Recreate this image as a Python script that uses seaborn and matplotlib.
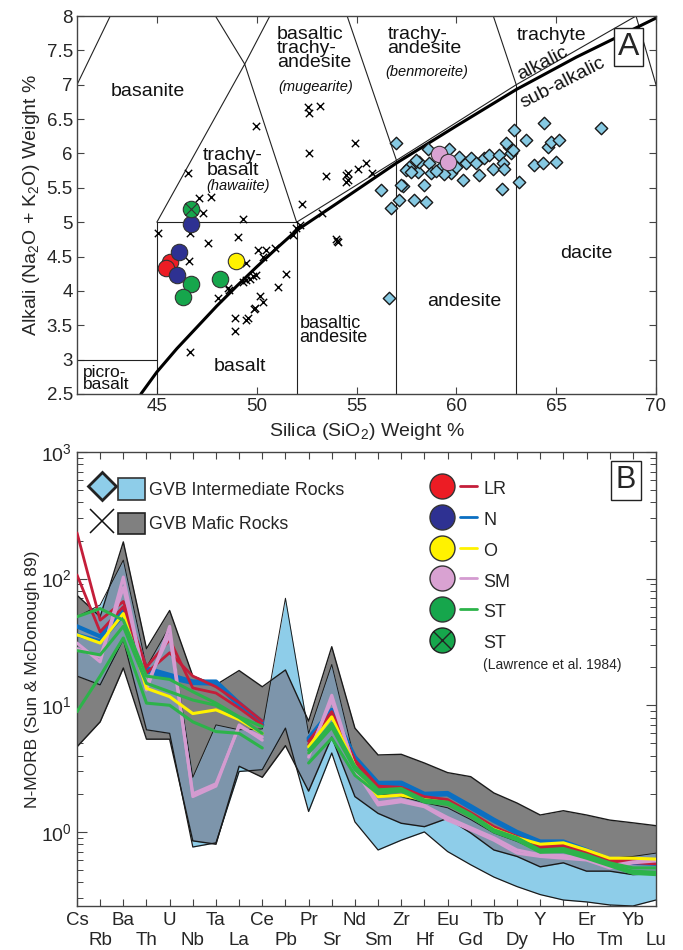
import numpy as np
import pandas as pd
import matplotlib
matplotlib.use("Agg")
import matplotlib.pyplot as plt
import seaborn as sns
from matplotlib.lines import Line2D
from matplotlib.patches import Patch
from matplotlib.path import Path
from matplotlib.legend_handler import HandlerTuple

sns.set_style("ticks")
plt.rcParams['font.family'] = ['Liberation Sans', 'DejaVu Sans']
plt.rcParams['mathtext.fontset'] = 'custom'
plt.rcParams['mathtext.rm'] = 'Liberation Sans'
plt.rcParams['mathtext.it'] = 'Liberation Sans:italic'

# ---------------- Panel A data (TAS) ----------------
mafic_si = [46.57, 49.98, 52.57, 53.15, 52.62, 52.6, 53.45, 54.45, 54.45, 52.25, 53.25, 53.95, 54.0, 54.05,
            54.9, 54.57, 54.57, 55.07, 55.48, 55.8, 47.12, 47.73, 47.32, 46.73, 49.32, 45.07, 46.65, 47.55,
            49.07, 50.07, 50.9, 50.32, 46.62, 49.48, 51.48, 51.07, 51.82, 51.98, 52.15, 48.57, 48.6, 48.07,
            49.32, 49.48, 49.65, 49.82, 49.98, 50.15, 50.32, 49.9, 49.85, 48.9, 49.48, 49.55, 48.9, 46.68, 50.48]
mafic_alk = [5.71, 6.40, 6.68, 6.69, 6.59, 6.0, 5.67, 5.69, 5.59, 5.27, 5.13, 4.76, 4.73, 4.71,
             6.15, 5.71, 5.61, 5.78, 5.86, 5.71, 5.35, 5.36, 5.13, 5.18, 5.05, 4.84, 4.84, 4.70,
             4.78, 4.59, 4.62, 4.50, 4.44, 4.40, 4.25, 4.05, 4.81, 4.91, 4.96, 4.04, 4.02, 3.89,
             4.13, 4.16, 4.18, 4.21, 4.23, 3.92, 3.84, 3.75, 3.73, 3.60, 3.58, 3.60, 3.41, 3.11, 4.59]

inter_si = [56.98, 56.23, 56.73, 57.15, 57.32, 57.65, 57.9, 58.48, 58.07, 58.15, 58.57, 58.65, 58.4, 58.73,
            59.65, 59.73, 60.15, 60.32, 60.48, 60.73, 60.98, 61.15, 61.4, 61.65, 61.82, 62.15, 62.32, 62.4,
            62.65, 62.73, 62.9, 62.82, 62.28, 63.15, 63.48, 63.9, 64.32, 64.4, 64.57, 64.73, 65.15, 64.98,
            67.23, 59.25, 59.4, 57.48, 57.98, 57.73, 57.23, 56.62, 62.48, 59.0, 60.0]
inter_alk = [6.15, 5.47, 5.20, 5.32, 5.52, 5.81, 5.32, 5.30, 5.73, 5.88, 6.07, 5.86, 5.54, 5.71,
             6.07, 5.71, 5.95, 5.61, 5.86, 5.93, 5.86, 5.69, 5.93, 5.98, 5.78, 5.98, 5.86, 5.78,
             6.10, 6.00, 6.34, 6.05, 5.48, 5.59, 6.20, 5.83, 5.86, 6.45, 6.10, 6.17, 6.20, 5.88,
             6.37, 5.80, 5.70, 5.76, 5.90, 5.73, 5.54, 3.90, 6.15, 5.75, 5.80]

lr_si, lr_alk = [45.65, 45.48], [4.42, 4.34]
n_si, n_alk = [46.73, 46.12, 46.02], [4.97, 4.57, 4.23]
o_si, o_alk = [48.98], [4.44]
sm_si, sm_alk = [59.15, 59.57], [5.99, 5.87]
st_si, st_alk = [46.73, 46.32, 48.18], [4.10, 3.91, 4.18]
stl_si, stl_alk = [46.73], [5.19]

# alkalic / sub-alkalic divide
div_si = [44.2, 45, 46, 47, 48, 49, 50, 51, 52, 54, 57, 60, 63, 66, 70]
div_alk = [2.5, 2.82, 3.16, 3.47, 3.78, 4.07, 4.35, 4.62, 4.88, 5.27, 5.86, 6.4, 6.93, 7.4, 7.97]

# TAS field boundaries (Le Bas et al.)
tas_bounds = [
    ([41, 45], [3, 3]), ([45, 45], [0, 5]), ([45, 52], [5, 5]), ([52, 52], [0, 5]),
    ([52, 57, 63, 69], [5, 5.9, 7, 8]), ([57, 57], [0, 5.9]), ([63, 63], [0, 7]),
    ([45, 49.4, 52], [5, 7.3, 5]), ([49.4, 53], [7.3, 9.3]), ([57, 53], [5.9, 9.3]),
    ([63, 57.6], [7, 11.7]), ([41, 45], [7, 9.4]), ([49.4, 45], [7.3, 9.4]), ([69, 77], [8, 0]),
]

# ---------------- Panel B data (spider diagram) ----------------
elements = ["Cs", "Rb", "Ba", "Th", "U", "Nb", "Ta", "La", "Ce", "Pb", "Pr", "Sr", "Nd",
            "Sm", "Zr", "Hf", "Eu", "Gd", "Tb", "Dy", "Y", "Ho", "Er", "Tm", "Yb", "Lu"]
mafic_hi = [74, 50, 195, 28, 56, 17, 14.5, 18.8, 14, 19, 7.5, 29, 6.6, 4.05, 4.1, 3.5, 2.94, 2.73,
            2.03, 1.69, 1.36, 1.47, 1.36, 1.24, 1.18, 1.12]
mafic_lo = [4.7, 7.4, 19.7, 5.4, 5.4, 0.85, 0.8, 3.3, 2.7, 4.8, 2.1, 5.6, 1.9, 1.40, 1.17, 1.10, 1.28,
            0.98, 0.72, 0.64, 0.53, 0.57, 0.49, 0.49, 0.46, 0.47]
inter_hi = [50, 62, 140, 20, 42, 2.7, 7.0, 6.4, 6.5, 70, 6.0, 21, 3.6, 2.0, 1.9, 1.7, 1.55, 1.25,
            0.98, 0.84, 0.70, 0.72, 0.66, 0.62, 0.64, 0.68]
inter_lo = [17, 14.5, 33, 6.4, 6.0, 0.76, 0.82, 3.0, 3.1, 6.6, 1.45, 4.2, 1.2, 0.72, 0.86, 1.0, 0.70,
            0.55, 0.44, 0.37, 0.32, 0.29, 0.28, 0.265, 0.26, 0.29]

nan = np.nan
lr_lines = [
    [230, 47, 66, 20, 33, 13.7, 12.5, 9.5, 7.0, nan, 5.2, 8.9, 3.7, 2.3, 2.25, 1.9, 1.8, 1.42, 1.1, 0.92, 0.77, 0.79, 0.70, 0.60, 0.59, 0.59],
    [107, 38, 60, 18, 26, 17, 14, 10.5, 7.5, nan, 4.9, 8.4, 3.6, 2.2, 2.2, 1.85, 1.75, 1.38, 1.08, 0.9, 0.74, 0.76, 0.68, 0.58, 0.57, 0.56],
]
n_lines = [
    [42, 35, 58, 19.6, 17.4, 15.4, 15.4, 10.4, 7.4, nan, 5.5, 9.2, 3.9, 2.44, 2.45, 2.0, 2.03, 1.6, 1.25, 1.0, 0.84, 0.84, 0.72, 0.61, 0.58, 0.57],
    [36, 32, 52, 18.5, 16.5, 15, 14.8, 10, 7.0, nan, 5.3, 8.8, 3.8, 2.38, 2.4, 1.95, 1.98, 1.55, 1.22, 0.98, 0.82, 0.82, 0.70, 0.60, 0.57, 0.56],
]
o_lines = [
    [36, 31, 53, 13.6, 11.7, 8.6, 9.2, 7.7, 6.0, nan, 4.7, 8.1, 3.3, 1.9, 1.95, 1.8, 1.7, 1.35, 1.05, 0.9, 0.80, 0.82, 0.72, 0.62, 0.62, 0.61],
]
sm_lines = [
    [31, 22, 103, 13.2, 42, 1.9, 2.3, 7.0, 5.3, nan, 3.9, 12, 3.1, 1.63, 1.73, 1.58, 1.24, 1.04, 0.86, 0.68, 0.64, 0.62, 0.60, 0.52, 0.57, 0.59],
    [28, 24, 85, 14.5, 36, 2.0, 2.4, 6.8, 5.6, nan, 4.2, 11, 3.2, 1.7, 1.8, 1.62, 1.3, 1.08, 0.9, 0.72, 0.66, 0.65, 0.62, 0.54, 0.58, 0.60],
]
st_lines = [
    [50, 58, 47, 17, 16, 12.8, 10.4, 8.1, 6.8, nan, 4.4, 7.2, 3.3, 2.15, 2.2, 1.79, 1.72, 1.38, 1.04, 0.9, 0.72, 0.74, 0.66, 0.57, 0.52, 0.52],
    [27, 25, 42, 14.9, 12.8, 11, 10, 8, 6.0, nan, 4.2, 6.7, 3.1, 2.1, 2.15, 1.75, 1.7, 1.35, 1.02, 0.88, 0.70, 0.72, 0.64, 0.55, 0.49, 0.48],
    [8.9, 17, 34, 10.4, 10, 7.4, 6.2, 6.0, 4.6, nan, 3.5, 5.5, 2.8, 2.0, 2.1, 1.72, 1.65, 1.32, 1.0, 0.86, 0.69, 0.70, 0.62, 0.54, 0.47, 0.46],
]

# ---------------- styles ----------------
RED_PT, NAVY_PT, YEL_PT, PINK_PT, GRN_PT = '#ec1c24', '#2e3192', '#fff200', '#d9a2d2', '#16a64c'
RED_LN, BLU_LN, YEL_LN, PINK_LN, GRN_LN = '#c41e3a', '#0b6fc2', '#fff200', '#d49bd0', '#2db34a'
LBLUE, GRAY, OVER, DIAM = '#8ecde9', '#808080', '#7d95ab', '#86c9e2'

d = np.sqrt(0.5)
crossed = Path.make_compound_path(Path.unit_circle(),
                                  Path([[-d, -d], [d, d]], [Path.MOVETO, Path.LINETO]),
                                  Path([[-d, d], [d, -d]], [Path.MOVETO, Path.LINETO]))

fig = plt.figure(figsize=(6.83, 9.5), dpi=100)
axA = fig.add_axes([77 / 683, 1 - 394 / 950, 579 / 683, 378 / 950])
axB = fig.add_axes([77 / 683, 1 - 906 / 950, 579 / 683, 454 / 950])

# ================= Panel A =================
for xs, ys in tas_bounds:
    axA.plot(xs, ys, color='#222222', lw=0.8, zorder=1)
axA.plot(div_si, div_alk, color='black', lw=2.2, zorder=2)

sns.scatterplot(x=mafic_si, y=mafic_alk, marker='x', color='black', s=28, linewidth=1.0, ax=axA, zorder=3)
sns.scatterplot(x=inter_si, y=inter_alk, marker='D', color=DIAM, edgecolor='#1a1a1a', linewidth=1.0,
                s=40, ax=axA, zorder=3)
circ_kw = dict(s=140, edgecolor='#333333', linewidth=0.8, ax=axA, zorder=4)
sns.scatterplot(x=lr_si, y=lr_alk, color=RED_PT, **circ_kw)
sns.scatterplot(x=n_si, y=n_alk, color=NAVY_PT, **circ_kw)
sns.scatterplot(x=o_si, y=o_alk, color=YEL_PT, **circ_kw)
sns.scatterplot(x=sm_si, y=sm_alk, color=PINK_PT, **circ_kw)
sns.scatterplot(x=st_si, y=st_alk, color=GRN_PT, **circ_kw)
sns.scatterplot(x=stl_si, y=stl_alk, marker=crossed, color=GRN_PT, **circ_kw)

axA.set_xlim(41, 70)
axA.set_ylim(2.5, 8)
axA.set_xticks([45, 50, 55, 60, 65, 70])
axA.set_yticks(np.arange(2.5, 8.01, 0.5))
axA.set_yticklabels(['2.5', '3', '3.5', '4', '4.5', '5', '5.5', '6', '6.5', '7', '7.5', '8'])
axA.tick_params(direction='in', top=True, right=True, length=5, width=0.8, labelsize=13.5, pad=3,
                color='#444444')
axA.set_xlabel('Silica (SiO$_2$) Weight %', fontsize=14, labelpad=4)
axA.set_ylabel('Alkali (Na$_2$O + K$_2$O) Weight %', fontsize=14, labelpad=3)
for sp in axA.spines.values():
    sp.set_color('#444444')
    sp.set_linewidth(1.0)

lab = dict(fontsize=14, color='#111111', zorder=5)
ital = dict(fontsize=10.5, style='italic', color='#111111', zorder=5)
axA.text(44.55, 6.9, 'basanite', ha='center', va='center', **lab)
axA.text(48.8, 5.86, 'trachy-\nbasalt', ha='center', va='center', linespacing=0.8, **lab)
axA.text(49.05, 5.52, '(hawaiite)', ha='center', va='center', **ital)
axA.text(51.0, 7.86, 'basaltic\ntrachy-\nandesite', ha='left', va='top', linespacing=0.78, **lab)
axA.text(51.1, 6.97, '(mugearite)', ha='left', va='center', **ital)
axA.text(56.55, 7.86, 'trachy-\nandesite', ha='left', va='top', linespacing=0.78, **lab)
axA.text(58.5, 7.18, '(benmoreite)', ha='center', va='center', **ital)
axA.text(64.75, 7.72, 'trachyte', ha='center', va='center', **lab)
axA.text(64.3, 7.31, 'alkalic', ha='center', va='center', rotation=27, rotation_mode='anchor', **lab)
axA.text(65.35, 7.03, 'sub-alkalic', ha='center', va='center', rotation=27, rotation_mode='anchor', **lab)
axA.text(41.3, 2.73, 'picro-\nbasalt', ha='left', va='center', linespacing=0.78,
         fontsize=12.5, color='#111111', zorder=5)
axA.text(49.15, 2.9, 'basalt', ha='center', va='center', **lab)
axA.text(52.15, 3.43, 'basaltic\nandesite', ha='left', va='center', linespacing=0.78, fontsize=13,
         color='#111111', zorder=5)
axA.text(60.4, 3.84, 'andesite', ha='center', va='center', **lab)
axA.text(66.5, 4.55, 'dacite', ha='center', va='center', **lab)
axA.text(0.953, 0.918, 'A', transform=axA.transAxes, fontsize=23, ha='center', va='center', zorder=6,
         bbox=dict(boxstyle='square,pad=0.12', fc='white', ec='#222222', lw=1.0))

# ================= Panel B =================
pos = np.arange(len(elements))
axB.set_yscale('log')
axB.fill_between(pos, mafic_lo, mafic_hi, color=GRAY, lw=0, zorder=1)
axB.fill_between(pos, inter_lo, inter_hi, color=LBLUE, lw=0, zorder=1.1)
grid = np.linspace(0, len(elements) - 1, 3001)
def _li(v):
    return 10 ** np.interp(grid, pos, np.log10(v))
ov_lo = np.maximum(_li(mafic_lo), _li(inter_lo))
ov_hi = np.minimum(_li(mafic_hi), _li(inter_hi))
axB.fill_between(grid, ov_lo, ov_hi, where=ov_hi > ov_lo, color=OVER, lw=0, zorder=1.2)
for arr, lw in [(mafic_hi, 1.0), (mafic_lo, 1.0), (inter_hi, 0.7), (inter_lo, 0.9)]:
    axB.plot(pos, arr, color='#1a1a1a', lw=lw, zorder=1.5)

rows = []
for grp, lines in [('N', n_lines), ('LR', lr_lines), ('SM', sm_lines), ('O', o_lines), ('ST', st_lines)]:
    for k, vals in enumerate(lines):
        for i, v in enumerate(vals):
            seg = 0 if i < 9 else 1
            if not np.isnan(v):
                rows.append(dict(group=grp, unit=f'{grp}{k}_{seg}', pos=i, val=v))
df = pd.DataFrame(rows)
line_style = {'N': (BLU_LN, 3.0), 'LR': (RED_LN, 2.0), 'SM': (PINK_LN, 2.2), 'O': (YEL_LN, 2.2),
              'ST': (GRN_LN, 2.2)}
for z, grp in enumerate(['N', 'LR', 'SM', 'O', 'ST']):
    c, lw = line_style[grp]
    sns.lineplot(data=df[df.group == grp], x='pos', y='val', units='unit', estimator=None, sort=False,
                 color=c, lw=lw, ax=axB, zorder=3 + z * 0.1)

axB.set_xlim(0, len(elements) - 1)
axB.set_ylim(0.26, 1000)
axB.set_xticks(pos[::2])
axB.set_xticklabels(elements[::2], fontsize=13.5)
axB.set_xticks(pos[1::2], minor=True)
axB.set_xticklabels(elements[1::2], minor=True, fontsize=13.5)
axB.tick_params(axis='x', which='both', direction='in', top=True, length=5, width=0.8, color='#444444')
axB.tick_params(axis='x', which='major', pad=4)
axB.tick_params(axis='x', which='minor', pad=19)
axB.tick_params(axis='y', which='major', direction='in', right=True, length=7, width=0.8, labelsize=14,
                color='#444444')
axB.tick_params(axis='y', which='minor', direction='in', right=True, length=4, width=0.7, color='#444444')
axB.set_xlabel('')
axB.set_ylabel('N-MORB (Sun & McDonough 89)', fontsize=12.5, labelpad=1)
for sp in axB.spines.values():
    sp.set_color('#444444')
    sp.set_linewidth(1.0)

# legends
h_int = (Line2D([], [], marker='D', ls='none', ms=14, mfc=LBLUE, mec='#222222', mew=2.0),
         Patch(fc=LBLUE, ec='#333333', lw=1.2))
h_maf = (Line2D([], [], marker='x', ls='none', ms=17, mec='#111111', mew=1.1),
         Patch(fc=GRAY, ec='#222222', lw=1.2))
leg1 = axB.legend([h_int, h_maf], ['GVB Intermediate Rocks', 'GVB Mafic Rocks'],
                  handler_map={tuple: HandlerTuple(ndivide=None, pad=0.17)},
                  loc='upper left', bbox_to_anchor=(0.02, 0.943), frameon=False, fontsize=12.8,
                  handlelength=3.16, handleheight=1.5, handletextpad=0.23, labelspacing=0.73,
                  borderpad=0, borderaxespad=0)
axB.add_artist(leg1)

ck = dict(marker='o', ls='none', ms=18, mec='#333333', mew=1.0)
h2 = [(Line2D([], [], mfc=c, **ck), Line2D([], [], color=lc, lw=2.0))
      for c, lc in [(RED_PT, RED_LN), (NAVY_PT, BLU_LN), (YEL_PT, YEL_LN), (PINK_PT, PINK_LN), (GRN_PT, GRN_LN)]]
h2.append((Line2D([], [], marker=crossed, ls='none', ms=18, mfc=GRN_PT, mec='#222222', mew=1.0),
           Line2D([], [], color='none')))
leg2 = axB.legend(h2, ['LR', 'N', 'O', 'SM', 'ST', 'ST'],
                  handler_map={tuple: HandlerTuple(ndivide=None, pad=0.53)},
                  loc='upper left', bbox_to_anchor=(0.616, 0.943), frameon=False, fontsize=13,
                  handlelength=2.42, handleheight=1.4, handletextpad=0.33, labelspacing=0.55,
                  borderpad=0, borderaxespad=0)
axB.text(0.701, 0.531, '(Lawrence et al. 1984)', transform=axB.transAxes, fontsize=10, ha='left',
         va='center')
axB.text(0.948, 0.938, 'B', transform=axB.transAxes, fontsize=22, ha='center', va='center', zorder=6,
         bbox=dict(boxstyle='square,pad=0.15', fc='white', ec='#222222', lw=1.0))

fig.savefig('out.png', dpi=100)
